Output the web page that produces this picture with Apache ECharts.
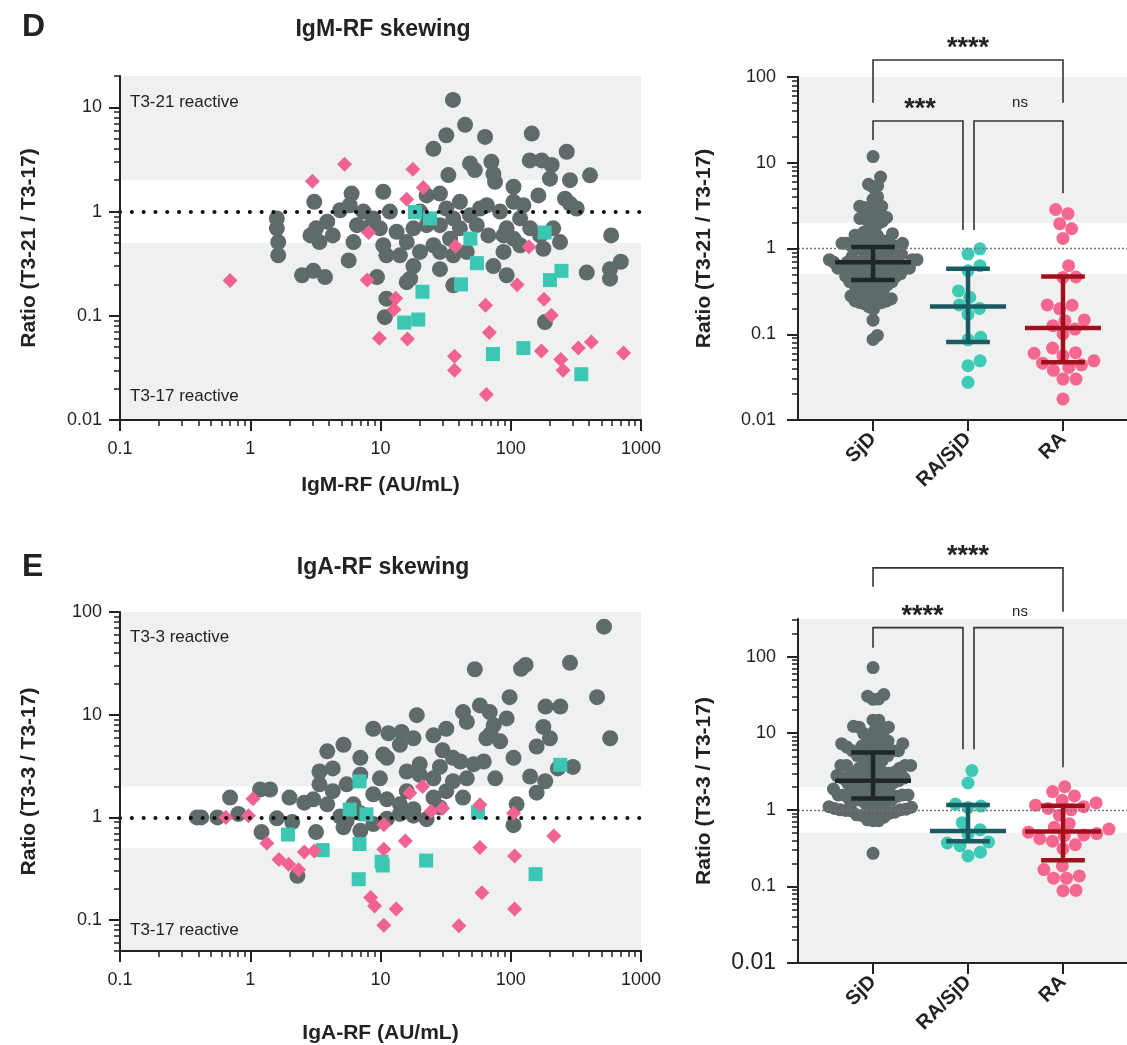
<!DOCTYPE html>
<html>
<head>
<meta charset="utf-8">
<script src="https://cdn.jsdelivr.net/npm/echarts@6/dist/echarts.min.js"></script>
<style>
  html, body { margin: 0; padding: 0; background: #fff; }
  #chart { width: 1127px; height: 1045px; }
</style>
</head>
<body>
<div id="chart"></div>
<script>
// ---- data: [RF (AU/mL), ratio] ----
var igmSjd = [[36,11.8],[44.6,6.8],[32,5.4],[25.5,4.0],[63.5,5.2],[145,5.6],[269,3.75],[48.7,2.9],[53,2.5],[71,3.0],
  [73.6,2.3],[75.7,1.93],[33.2,2.24],[140,3.1],[173,3.1],[206,2.8],[200,2.07],[406,2.23],[285,2.0],[105,1.73],
  [163,1.43],[261,1.33],[321,1.07],[285,1.19],[590,0.59],[700,0.33],[578,0.28],[578,0.227],[383,0.26],[10.5,1.55],
  [6.0,1.49],[3.1,1.24],[1.6,0.86],[1.6,0.69],[1.64,0.51],[1.64,0.38],[2.5,0.245],[3.05,0.27],[3.75,0.235],[3.2,0.69],
  [3.4,0.51],[3.9,0.80],[4.9,1.03],[5.8,1.15],[7.4,1.0],[8.8,0.86],[9.9,0.69],[6.6,0.74],[6.2,0.51],[5.7,0.34],
  [9.4,0.235],[10.5,0.475],[11.1,0.38],[13.3,0.64],[14.1,0.38],[15.9,0.51],[17.9,0.69],[20.1,0.41],[16.9,0.227],[11.1,0.146],
  [10.8,0.097],[28.6,0.28],[25.5,0.475],[28.6,0.74],[22.6,1.43],[28.6,1.49],[36.2,0.86],[34.2,0.55],[40.7,1.24],[48.6,0.92],
  [36.2,0.196],[36.2,0.38],[45.9,0.41],[54.8,0.74],[65.5,1.15],[67.3,0.59],[82.8,1.0],[93,0.69],[105,0.55],[88,0.41],
  [73.6,0.30],[93,0.245],[118,0.86],[125,1.15],[141,0.69],[168,0.59],[212,0.69],[239,0.51],[178,0.44],[183,0.087],
  [17.9,0.30],[15.9,0.21],[58,1.07],[105,1.24],[11.8,1.0],[8.1,0.71],[2.9,0.59],[4.3,0.59],[28.6,0.41],[22.6,0.74],
  [40.7,0.69],[20.1,1.0],[32,1.07],[118,0.475],[88,0.59]];
var igmRaSjd = [[18.4,0.99],[24,0.86],[49,0.55],[182,0.63],[55,0.32],[41.5,0.2],[21,0.17],[245,0.27],[200,0.22],
  [15.2,0.086],[19.5,0.092],[73,0.043],[125,0.049],[348,0.0275]];
var igmRa = [[5.3,2.85],[3.0,1.95],[17.7,2.55],[21.3,1.7],[15.9,1.31],[8.1,0.63],[7.9,0.22],[37.6,0.465],[138,0.46],
  [13.1,0.147],[12.7,0.115],[9.8,0.061],[16.1,0.06],[64,0.126],[68.5,0.069],[112,0.198],[180,0.144],[205,0.101],
  [37,0.041],[37,0.030],[65,0.0176],[172,0.046],[242,0.038],[252,0.030],[330,0.049],[416,0.056],[735,0.044],[0.70,0.218]];

var igaSjd = [[520,72],[53,27.7],[120,28],[130,30.5],[285,32],[460,14.8],[580,5.9],[98,14.8],[185,12],[19,9.9],
  [8.8,7.3],[11.5,6.6],[14.5,6.8],[5.2,5.1],[3.9,4.4],[7.0,3.8],[14.1,5.1],[10.5,4.1],[17.9,5.9],[25.5,6.3],
  [32,7.3],[43,10.6],[46,8.5],[58,12.3],[69,10.6],[74,7.9],[93,9.2],[65,5.9],[83,5.5],[105,3.8],
  [178,7.6],[200,5.9],[158,4.9],[300,3.1],[141,2.5],[184,2.25],[158,1.74],[76,2.4],[52,3.3],[41,3.5],
  [28.6,3.1],[20,3.3],[15.9,2.8],[11.2,3.8],[7.0,2.6],[4.3,3.0],[3.4,2.8],[3.4,2.1],[4.3,1.8],[5.5,2.1],
  [8.8,1.68],[11.2,1.5],[14.1,1.34],[17.9,1.2],[22.6,0.96],[25.5,1.56],[32,1.8],[36,2.25],[46,2.4],[43,1.56],
  [28.6,1.25],[17.9,1.04],[14.1,1.08],[11.2,0.97],[8.8,0.86],[7.0,0.74],[5.2,0.80],[4.9,1.02],[3.9,1.34],[3.05,1.5],
  [2.6,1.39],[2.0,1.56],[3.2,0.72],[2.1,0.90],[1.6,0.98],[1.42,1.87],[1.19,1.87],[1.22,0.72],[0.70,1.56],[0.81,1.08],
  [0.56,1.0],[0.42,1.0],[0.39,1.0],[2.3,0.27],[105,0.84],[111,1.34],[6.2,1.34],[20,2.6],[25.5,2.4],[9.9,2.4],
  [5.5,0.93],[7.0,1.1],[15.9,1.8],[36,3.8],[62,3.5],[30,4.5],[70,6.5],[240,12],[230,3.0]];
var igaRaSjd = [[6.9,2.24],[5.8,1.19],[7.8,1.07],[1.95,0.68],[3.6,0.48],[6.9,0.55],[10.2,0.37],[10.4,0.34],[6.8,0.25],
  [22.4,0.38],[56,1.12],[155,0.28],[240,3.25]];
var igaRa = [[1.05,1.52],[0.65,1.0],[0.97,1.04],[1.34,0.56],[1.66,0.39],[1.97,0.35],[2.35,0.31],[2.6,0.46],[3.1,0.47],
  [16.8,1.73],[21,2.0],[24.5,1.15],[30,1.23],[10.6,0.85],[10.6,0.49],[15.5,0.59],[58,1.33],[58,0.51],[105,1.1],
  [107,0.42],[214,0.66],[60,0.185],[107,0.128],[8.4,0.166],[9.0,0.137],[13.2,0.128],[10.6,0.089],[40,0.088]];

// group summaries (median, Q1, Q3): SjD, RA/SjD, RA
var groupNames = ['SjD', 'RA/SjD', 'RA'];
var igmMedian = [0.69, 0.21, 0.118];
var igmQ1 = [0.43, 0.081, 0.047];
var igmQ3 = [1.04, 0.58, 0.47];
var igaMedian = [2.4, 0.53, 0.52];
var igaQ1 = [1.4, 0.39, 0.22];
var igaQ3 = [5.6, 1.16, 1.13];

// significance brackets: [x, ratio] corners; labels: [text, x, ratio]
var igmBrackets = [
  [[0,50],[0,158],[2,158],[2,50]],
  [[0,18.4],[0,30.7],[0.947,30.7],[0.947,1.64]],
  [[1.063,1.64],[1.063,30.7],[2,30.7],[2,4.4]]
];
var igmStars = [['****',1,256],['***',0.495,51],['ns',1.547,50]];
var igaBrackets = [
  [[0,815],[0,1443],[2,1443],[2,385]],
  [[0,131],[0,239],[0.947,239],[0.947,6.2]],
  [[1.063,6.2],[1.063,239],[2,239],[2,3.6]]
];
var igaStars = [['****',1,2470],['****',0.52,409],['ns',1.547,385]];

var FONT = "'Liberation Sans', Arial, Helvetica, sans-serif";
var GRAY = '#5f6b6b', TEAL = '#3cc6b4', PINK = '#f0628f', BAND = '#eef1f0', INK = '#222';
var BAR_COLORS = ['#1e2828', '#1b5a63', '#a00f1c'];

function nudge(vals, min, max) {
  return vals.filter(function (v) { return v >= min * 0.999999 && v <= max * 1.000001; })
    .map(function (v) { return Math.min(Math.max(v, min * 1.0000001), max * 0.9999999); });
}
function decades(min, max) {
  var out = [];
  for (var e = -3; e <= 4; e++) out.push(Math.pow(10, e));
  return nudge(out, min, max);
}
function minors(min, max) {
  var out = [];
  for (var e = -3; e <= 4; e++) for (var k = 2; k <= 9; k++) out.push(k * Math.pow(10, e));
  return nudge(out, min, max);
}
function fmt(v) { return String(Number(v.toPrecision(6))); }

function logMain(pos, grid, min, max, extra) {
  var a = {
    type: 'log', logBase: 10, gridIndex: grid, min: min, max: max, position: pos, z: 6,
    axisLine: { onZero: false, lineStyle: { color: INK, width: 2 } },
    axisTick: { customValues: decades(min, max), length: 11, lineStyle: { color: INK, width: 2 } },
    axisLabel: { customValues: decades(min, max), formatter: fmt, fontSize: 18, color: INK, fontFamily: FONT },
    splitLine: { show: false }, minorTick: { show: false }
  };
  for (var k in extra) a[k] = extra[k];
  return a;
}
function logMinor(pos, grid, min, max) {
  return {
    type: 'log', logBase: 10, gridIndex: grid, min: min, max: max, position: pos, offset: 0, z: 6,
    axisLine: { show: false, onZero: false },
    axisTick: { customValues: minors(min, max), length: 6, lineStyle: { color: INK, width: 1.5 } },
    axisLabel: { show: false }, splitLine: { show: false }
  };
}
function catAxis(grid) {
  return {
    type: 'value', gridIndex: grid, min: -0.79, max: 2.674, position: 'bottom', z: 6,
    axisLine: { onZero: false, lineStyle: { color: INK, width: 2 } },
    axisTick: { customValues: [0, 1, 2], length: 11, lineStyle: { color: INK, width: 2 } },
    axisLabel: {
      customValues: [0, 1, 2], rotate: 45, margin: 16, fontSize: 20, fontWeight: 'bold', color: INK, fontFamily: FONT,
      formatter: function (v) { return groupNames[Math.round(v)]; }
    },
    splitLine: { show: false }
  };
}
var nameStyle = { fontWeight: 'bold', fontSize: 21, color: INK, fontFamily: FONT };

// beeswarm offsets computed from the values (pixel space, then to axis units)
function swarm(vals, pxPerDecade, d) {
  var order = vals.map(function (v, i) { return i; }).sort(function (a, b) { return vals[a] - vals[b]; });
  var placed = [], out = [];
  order.forEach(function (i) {
    var y = Math.log10(vals[i]) * pxPerDecade;
    var near = placed.filter(function (p) { return Math.abs(p.y - y) < d; });
    var cands = [0];
    near.forEach(function (p) {
      var dx = Math.sqrt(d * d - (p.y - y) * (p.y - y));
      cands.push(p.x + dx, p.x - dx);
    });
    cands.sort(function (a, b) { return Math.abs(a) - Math.abs(b); });
    var x = cands.find(function (c) {
      return near.every(function (p) { return (p.x - c) * (p.x - c) + (p.y - y) * (p.y - y) >= d * d - 0.01; });
    });
    placed.push({ x: x, y: y });
    out[i] = x;
  });
  return out;
}
// spacing and largest half width (px) per group, as in the figure
var swarmGap = [11, 13, 13];
var swarmCap = [44, 42, 46];
function swarmData(groups, pxPerDecade) {
  return groups.map(function (pts, g) {
    var ys = pts.map(function (p) { return p[1]; });
    var off = swarm(ys, pxPerDecade, swarmGap[g]);
    var widest = Math.max.apply(null, off.map(Math.abs)) || 1;
    var k = Math.min(1, swarmCap[g] / widest);
    return ys.map(function (y, i) { return [g + off[i] * k / 95, y]; });
  });
}

function bandSeries(xi, yi, min, max, dots) {
  return {
    type: 'scatter', xAxisIndex: xi, yAxisIndex: yi, data: [], z: 1, silent: true,
    markArea: {
      silent: true, itemStyle: { color: BAND },
      data: [[{ yAxis: min }, { yAxis: 0.5 }], [{ yAxis: 2 }, { yAxis: max }]]
    },
    markLine: {
      silent: true, symbol: 'none', label: { show: false },
      lineStyle: dots ? { color: '#111', width: 4, type: [0.1, 11.7], cap: 'round' }
                      : { color: '#777', width: 1.3, type: [2, 2] },
      data: [{ yAxis: 1 }]
    }
  };
}
function scatter(xi, yi, data, symbol, size, color) {
  return { type: 'scatter', xAxisIndex: xi, yAxisIndex: yi, data: data, symbol: symbol, symbolSize: size,
    itemStyle: { color: color, opacity: 1 }, z: 3, silent: true };
}
function errorBars(xi, yi, med, q1, q3) {
  return {
    type: 'custom', xAxisIndex: xi, yAxisIndex: yi, z: 5, silent: true,
    data: med.map(function (m, i) { return [i, m, q1[i], q3[i]]; }),
    encode: { x: 0, y: 1 },
    renderItem: function (params, api) {
      var x = api.value(0);
      var pm = api.coord([x, api.value(1)]), pl = api.coord([x, api.value(2)]), ph = api.coord([x, api.value(3)]);
      var wm = api.coord([x + 0.4, api.value(1)])[0] - pm[0];
      var wc = api.coord([x + 0.23, api.value(1)])[0] - pm[0];
      var st = { stroke: BAR_COLORS[params.dataIndex], lineWidth: 4.5 };
      return { type: 'group', children: [
        { type: 'line', shape: { x1: pm[0] - wm, y1: pm[1], x2: pm[0] + wm, y2: pm[1] }, style: st },
        { type: 'line', shape: { x1: pl[0], y1: pl[1], x2: ph[0], y2: ph[1] }, style: st },
        { type: 'line', shape: { x1: pl[0] - wc, y1: pl[1], x2: pl[0] + wc, y2: pl[1] }, style: st },
        { type: 'line', shape: { x1: ph[0] - wc, y1: ph[1], x2: ph[0] + wc, y2: ph[1] }, style: st }
      ] };
    }
  };
}

var igmSwarm = swarmData([igmSjd, igmRaSjd, igmRa], 85.75);
var igaSwarm = swarmData([igaSjd, igaRaSjd, igaRa], 76.8);

var option = {
  animation: false,
  backgroundColor: '#fff',
  textStyle: { fontFamily: FONT },
  grid: [
    { left: 120, top: 76, width: 521, height: 344 },
    { left: 798, top: 77, right: 0, height: 343 },
    { left: 120, top: 612, width: 521, height: 343 },
    { left: 798, top: 619, right: 0, height: 344 }
  ],
  xAxis: [
    logMain('bottom', 0, 0.1, 1000, { name: 'IgM-RF (AU/mL)', nameLocation: 'middle', nameGap: 55, nameTextStyle: nameStyle }),
    logMinor('bottom', 0, 0.1, 1000),
    catAxis(1),
    logMain('bottom', 2, 0.1, 1000, { name: 'IgA-RF (AU/mL)', nameLocation: 'middle', nameGap: 72, nameTextStyle: nameStyle }),
    logMinor('bottom', 2, 0.1, 1000),
    catAxis(3)
  ],
  yAxis: [
    logMain('left', 0, 0.01, 20, { name: 'Ratio (T3-21 / T3-17)', nameLocation: 'middle', nameGap: 80, nameTextStyle: nameStyle }),
    logMinor('left', 0, 0.01, 20),
    logMain('left', 1, 0.01, 100, { name: 'Ratio (T3-21 / T3-17)', nameLocation: 'middle', nameGap: 83, nameTextStyle: nameStyle }),
    logMinor('left', 1, 0.01, 100),
    logMain('left', 2, 0.05, 100, { name: 'Ratio (T3-3 / T3-17)', nameLocation: 'middle', nameGap: 80, nameTextStyle: nameStyle }),
    logMinor('left', 2, 0.05, 100),
    logMain('left', 3, 0.01, 310, { name: 'Ratio (T3-3 / T3-17)', nameLocation: 'middle', nameGap: 83, nameTextStyle: nameStyle }),
    logMinor('left', 3, 0.01, 310)
  ],
  series: [
    bandSeries(0, 0, 0.01, 20, true),
    scatter(0, 0, igmSjd, 'circle', 16, GRAY),
    scatter(0, 0, igmRaSjd, 'rect', 14, TEAL),
    scatter(0, 0, igmRa, 'diamond', 15, PINK),

    bandSeries(2, 2, 0.01, 100, false),
    scatter(2, 2, igmSwarm[0], 'circle', 13, GRAY),
    scatter(2, 2, igmSwarm[1], 'circle', 13, '#3fcab6'),
    scatter(2, 2, igmSwarm[2], 'circle', 13, '#f6678f'),
    errorBars(2, 2, igmMedian, igmQ1, igmQ3),

    bandSeries(3, 4, 0.05, 100, true),
    scatter(3, 4, igaSjd, 'circle', 16, GRAY),
    scatter(3, 4, igaRaSjd, 'rect', 14, TEAL),
    scatter(3, 4, igaRa, 'diamond', 15, PINK),

    bandSeries(5, 6, 0.01, 310, false),
    scatter(5, 6, igaSwarm[0], 'circle', 13, GRAY),
    scatter(5, 6, igaSwarm[1], 'circle', 13, '#3fcab6'),
    scatter(5, 6, igaSwarm[2], 'circle', 13, '#f6678f'),
    errorBars(5, 6, igaMedian, igaQ1, igaQ3)
  ]
};
// bigger "0.01" label on the lower right panel, as in the figure
option.yAxis[6].axisLabel.formatter = function (v) {
  var s = fmt(v);
  return s === '0.01' ? '{big|0.01}' : s;
};
option.yAxis[6].axisLabel.rich = { big: { fontSize: 23, color: INK, fontFamily: FONT } };
option.yAxis[0].axisLabel.margin = 18;
option.yAxis[4].axisLabel.margin = 18;
option.yAxis[2].axisLabel.margin = 22;
option.yAxis[6].axisLabel.margin = 22;
option.xAxis[0].axisLabel.margin = 20;
option.xAxis[3].axisLabel.margin = 20;

var chart = echarts.init(document.getElementById('chart'), null, { renderer: 'canvas' });
chart.setOption(option);

function txt(x, y, s, size, weight, align) {
  return { type: 'text', x: x, y: y, z: 10, silent: true,
    style: { text: s, font: weight + ' ' + size + 'px ' + FONT, fill: INK,
      align: align, textAlign: align, verticalAlign: 'middle', textVerticalAlign: 'middle' } };
}
function annotate(finder, brackets, stars) {
  var els = [];
  brackets.forEach(function (b) {
    els.push({ type: 'polyline', z: 10, silent: true,
      shape: { points: b.map(function (p) { return chart.convertToPixel(finder, p); }) },
      style: { stroke: '#333', lineWidth: 1.6, fill: null } });
  });
  stars.forEach(function (s) {
    var p = chart.convertToPixel(finder, [s[1], s[2]]);
    if (s[0] === 'ns') els.push(txt(p[0], p[1], s[0], 15, 'normal', 'center'));
    else els.push(txt(p[0], p[1] + 7, s[0], 27, 'bold', 'center'));
  });
  return els;
}

var graphics = [
  txt(22, 27, 'D', 32, 'bold', 'left'),
  txt(383, 30, 'IgM-RF skewing', 23, 'bold', 'center'),
  txt(22, 567, 'E', 32, 'bold', 'left'),
  txt(383, 568, 'IgA-RF skewing', 23, 'bold', 'center'),
  txt(130, 102, 'T3-21 reactive', 17, 'normal', 'left'),
  txt(130, 396, 'T3-17 reactive', 17, 'normal', 'left'),
  txt(130, 637, 'T3-3 reactive', 17, 'normal', 'left'),
  txt(130, 930, 'T3-17 reactive', 17, 'normal', 'left')
].concat(annotate({ xAxisIndex: 2, yAxisIndex: 2 }, igmBrackets, igmStars))
 .concat(annotate({ xAxisIndex: 5, yAxisIndex: 6 }, igaBrackets, igaStars));

chart.setOption({ graphic: graphics });
</script>
</body>
</html>
